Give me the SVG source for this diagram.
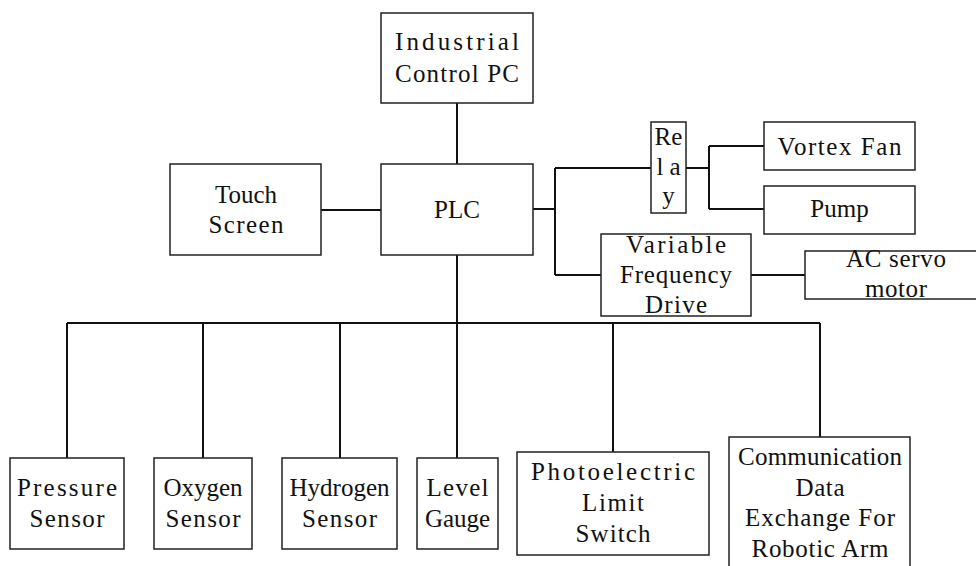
<svg xmlns="http://www.w3.org/2000/svg" width="976" height="566" viewBox="0 0 976 566">
<style>
.box{fill:#fff;stroke:#222;stroke-width:1.5}
.c{fill:none;stroke:#111;stroke-width:2}
text{font-family:"Liberation Serif","DejaVu Serif",serif;font-size:25px;fill:#111;text-anchor:middle}
</style>
<rect width="976" height="566" fill="#fff"/>
<g id="connectors">
<path class="c" d="M457,103V164M321,210H381M457,255V323M67,323H820M67,323V458M203,323V458M340,323V458M457,323V458M613,323V452M820,323V437"/>
<path class="c" d="M533,209H555M555,168V275M555,168H651M555,275H601M686,168H709M709,146V209M709,146H764M709,209H764M751,275H805"/>
</g>
<g id="pc"><rect class="box" x="381" y="13" width="152" height="90"/>
<text x="457" y="50" textLength="124" lengthAdjust="spacing">Industrial</text>
<text x="457" y="82" textLength="124" lengthAdjust="spacing">Control PC</text></g>
<g id="touch"><rect class="box" x="170" y="164" width="151" height="91"/>
<text x="246" y="203">Touch</text>
<text x="246" y="233" textLength="75" lengthAdjust="spacing">Screen</text></g>
<g id="plc"><rect class="box" x="381" y="164" width="152" height="91"/>
<text x="457" y="218">PLC</text></g>
<g id="relay"><rect class="box" x="651" y="122" width="35" height="91"/>
<text x="668.5" y="145">Re</text>
<text x="668.5" y="175" textLength="24" lengthAdjust="spacing">la</text>
<text x="668.5" y="204">y</text></g>
<g id="fan"><rect class="box" x="764" y="122" width="151" height="48"/>
<text x="839.5" y="155" textLength="124" lengthAdjust="spacing">Vortex Fan</text></g>
<g id="pump"><rect class="box" x="764" y="186" width="151" height="48"/>
<text x="839.5" y="217">Pump</text></g>
<g id="vfd"><rect class="box" x="601" y="234" width="150" height="82"/>
<text x="676" y="253" textLength="100" lengthAdjust="spacing">Variable</text>
<text x="676" y="283" textLength="112" lengthAdjust="spacing">Frequency</text>
<text x="676" y="313" textLength="62" lengthAdjust="spacing">Drive</text></g>
<g id="servo"><rect class="box" x="805" y="251" width="184" height="48"/>
<text x="896" y="267" textLength="100" lengthAdjust="spacing">AC servo</text>
<text x="896" y="297" textLength="62" lengthAdjust="spacing">motor</text></g>
<g id="pressure"><rect class="box" x="10" y="458" width="114" height="91"/>
<text x="67" y="496" textLength="100" lengthAdjust="spacing">Pressure</text>
<text x="67" y="527" textLength="75" lengthAdjust="spacing">Sensor</text></g>
<g id="oxygen"><rect class="box" x="154" y="458" width="98" height="91"/>
<text x="203" y="496">Oxygen</text>
<text x="203" y="527" textLength="75" lengthAdjust="spacing">Sensor</text></g>
<g id="hydrogen"><rect class="box" x="282" y="458" width="115" height="91"/>
<text x="339.5" y="496" textLength="100" lengthAdjust="spacing">Hydrogen</text>
<text x="339.5" y="527" textLength="75" lengthAdjust="spacing">Sensor</text></g>
<g id="level"><rect class="box" x="417" y="458" width="81" height="91"/>
<text x="457.5" y="496" textLength="62" lengthAdjust="spacing">Level</text>
<text x="457.5" y="527">Gauge</text></g>
<g id="photo"><rect class="box" x="517" y="452" width="192" height="103"/>
<text x="613" y="480" textLength="164" lengthAdjust="spacing">Photoelectric</text>
<text x="613" y="511" textLength="62" lengthAdjust="spacing">Limit</text>
<text x="613" y="542" textLength="75" lengthAdjust="spacing">Switch</text></g>
<g id="comm"><rect class="box" x="729" y="437" width="181" height="140"/>
<text x="820" y="465" textLength="164" lengthAdjust="spacing">Communication</text>
<text x="820" y="496" textLength="49" lengthAdjust="spacing">Data</text>
<text x="820" y="526" textLength="150" lengthAdjust="spacing">Exchange For</text>
<text x="820" y="557" textLength="137" lengthAdjust="spacing">Robotic Arm</text></g>
</svg>
